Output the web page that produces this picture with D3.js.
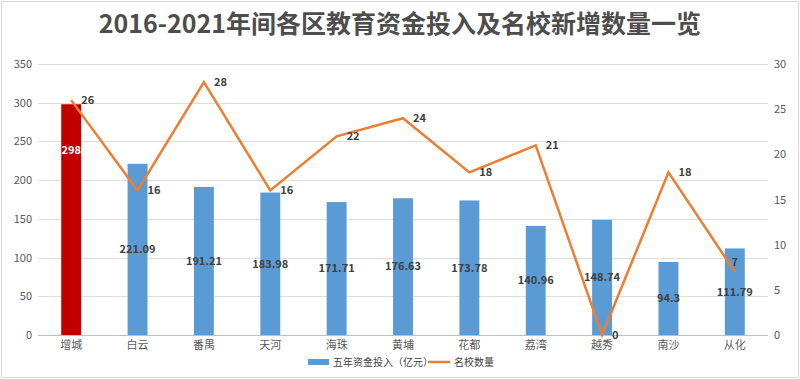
<!DOCTYPE html>
<html>
<head>
<meta charset="utf-8">
<script src="https://cdn.jsdelivr.net/npm/d3@7"></script>
<style>
  body { margin: 0; background: #fff; }
  svg text { font-family: "Noto Sans CJK SC", "Noto Sans", sans-serif; }
</style>
</head>
<body>
<div id="root"></div>
<script>
// districts
var districts = ["增城", "白云", "番禺", "天河", "海珠", "黄埔", "花都", "荔湾", "越秀", "南沙", "从化"];
// five-year education funding (100 million yuan)
var funding = [298, 221.09, 191.21, 183.98, 171.71, 176.63, 173.78, 140.96, 148.74, 94.3, 111.79];
// new famous schools
var schools = [26, 16, 28, 16, 22, 24, 18, 21, 0, 18, 7];
var leftTicks = [0, 50, 100, 150, 200, 250, 300, 350];
var rightTicks = [0, 5, 10, 15, 20, 25, 30];
var title = "2016-2021年间各区教育资金投入及名校新增数量一览";
var legendNames = ["五年资金投入（亿元）", "名校数量"];

var W = 800, H = 379;
var margin = {top: 64, right: 32, bottom: 44, left: 38};

var svg = d3.select("#root").append("svg")
  .attr("width", W)
  .attr("height", H);

// outer frame
svg.append("rect")
  .attr("x", 1.5).attr("y", 1.5)
  .attr("width", W - 3).attr("height", H - 3)
  .attr("fill", "#fff")
  .attr("stroke", "#d9d9d9");

svg.append("text")
  .attr("x", W / 2)
  .attr("y", 33)
  .attr("text-anchor", "middle")
  .attr("font-size", "25px")
  .attr("font-weight", "bold")
  .attr("fill", "#4d4d4d")
  .text(title);

var x = d3.scaleBand()
  .domain(districts)
  .range([margin.left, W - margin.right])
  .paddingInner(0.7)
  .paddingOuter(0.35);

var y = d3.scaleLinear()
  .domain([0, 350])
  .range([H - margin.bottom, margin.top]);

var y2 = d3.scaleLinear()
  .domain([0, 30])
  .range([H - margin.bottom, margin.top]);

// grid
svg.append("g")
  .selectAll("line")
  .data(leftTicks)
  .enter().append("line")
  .attr("x1", margin.left)
  .attr("x2", W - margin.right)
  .attr("y1", function(d) { return Math.round(y(d)) + 0.5; })
  .attr("y2", function(d) { return Math.round(y(d)) + 0.5; })
  .attr("stroke", function(d) { return d === 0 ? "#bfbfbf" : "#dedede"; })
  .attr("stroke-width", 1);

// left axis
var leftAxis = svg.append("g")
  .attr("transform", "translate(" + margin.left + ",0)")
  .call(d3.axisLeft(y).tickValues(leftTicks).tickSize(0).tickPadding(6));
leftAxis.select(".domain").remove();
leftAxis.selectAll("text").attr("font-size", "11px").attr("fill", "#595959");

// right axis
var rightAxis = svg.append("g")
  .attr("transform", "translate(" + (W - margin.right) + ",0)")
  .call(d3.axisRight(y2).tickValues(rightTicks).tickSize(0).tickPadding(6));
rightAxis.select(".domain").remove();
rightAxis.selectAll("text").attr("font-size", "11px").attr("fill", "#595959");

// category axis
var bottomAxis = svg.append("g")
  .attr("transform", "translate(0," + (H - margin.bottom) + ")")
  .call(d3.axisBottom(x).tickSize(0).tickPadding(6));
bottomAxis.select(".domain").remove();
bottomAxis.selectAll("text").attr("font-size", "11px").attr("fill", "#595959");

// bars
var bars = svg.append("g").selectAll("g")
  .data(districts)
  .enter().append("g");

bars.append("rect")
  .attr("x", function(d) { return x(d); })
  .attr("y", function(d, i) { return y(funding[i]); })
  .attr("width", x.bandwidth())
  .attr("height", function(d, i) { return y(0) - y(funding[i]); })
  .attr("fill", function(d, i) { return i === 0 ? "#C00000" : "#5B9BD5"; });

bars.append("text")
  .attr("x", function(d) { return x(d) + x.bandwidth() / 2; })
  .attr("y", function(d, i) { return y(funding[i] * (i === 0 ? 0.8 : 0.5)); })
  .attr("dy", "0.35em")
  .attr("text-anchor", "middle")
  .attr("font-size", "11px")
  .attr("font-weight", "bold")
  .attr("fill", function(d, i) { return i === 0 ? "#fff" : "#404040"; })
  .text(function(d, i) { return funding[i]; });

// line
var cx = function(i) { return x(districts[i]) + x.bandwidth() / 2; };
var line = d3.line()
  .x(function(d, i) { return cx(i); })
  .y(function(d) { return y2(d); });

svg.append("path")
  .datum(schools)
  .attr("d", line)
  .attr("fill", "none")
  .attr("stroke", "#ED7D31")
  .attr("stroke-width", 2.5)
  .attr("stroke-linejoin", "miter");

svg.append("g").selectAll("text")
  .data(schools)
  .enter().append("text")
  .attr("x", function(d, i) { return i === schools.length - 1 ? cx(i) : cx(i) + 10; })
  .attr("y", function(d, i) { return i === schools.length - 1 ? y2(d) - 10 : y2(d); })
  .attr("dy", "0.35em")
  .attr("text-anchor", function(d, i) { return i === schools.length - 1 ? "middle" : "start"; })
  .attr("font-size", "11px")
  .attr("font-weight", "bold")
  .attr("fill", "#404040")
  .text(function(d) { return d; });

// legend
var legend = svg.append("g").attr("transform", "translate(308," + (H - 17) + ")");
legend.append("rect")
  .attr("x", 0).attr("y", -3)
  .attr("width", 21).attr("height", 6)
  .attr("fill", "#5B9BD5");
legend.append("text")
  .attr("x", 25).attr("y", 0).attr("dy", "0.35em")
  .attr("font-size", "10px").attr("fill", "#404040")
  .text(legendNames[0]);
legend.append("line")
  .attr("x1", 120).attr("x2", 142)
  .attr("y1", 0).attr("y2", 0)
  .attr("stroke", "#ED7D31").attr("stroke-width", 2.5);
legend.append("text")
  .attr("x", 146).attr("y", 0).attr("dy", "0.35em")
  .attr("font-size", "10px").attr("fill", "#404040")
  .text(legendNames[1]);
</script>
</body>
</html>
